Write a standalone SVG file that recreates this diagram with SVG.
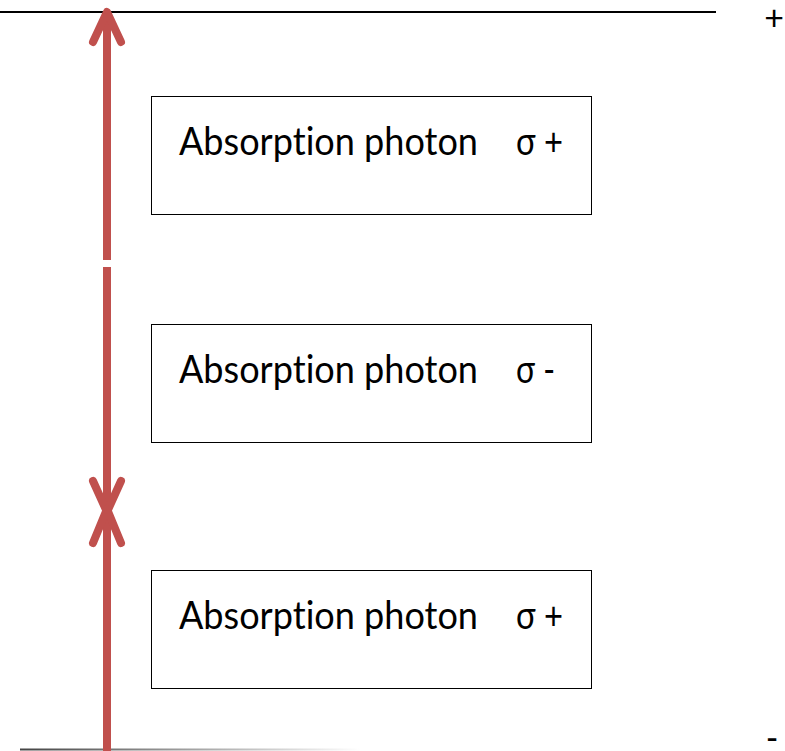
<svg xmlns="http://www.w3.org/2000/svg" width="785" height="751" viewBox="0 0 785 751">
  <style>
    .level { stroke: #000; stroke-width: 2; }
    .box rect { fill: #fff; stroke: #000; stroke-width: 1; }
    .box text, .sign { font-family: Lato, "Liberation Sans", sans-serif; fill: #000; font-variant-ligatures: none; }
    .box text { font-size: 39px; }
    .sign { font-size: 34px; }
    .beam { stroke: #C0504D; stroke-width: 8; fill: none; }
    .head { stroke: #C0504D; stroke-width: 8; fill: none; stroke-linecap: round; stroke-linejoin: round; }
  </style>
  <defs>
    <linearGradient id="fade" x1="0" y1="0" x2="1" y2="0">
      <stop offset="0" stop-color="#444"/>
      <stop offset="1" stop-color="#fff"/>
    </linearGradient>
  </defs>

  <!-- energy levels -->
  <line class="level" x1="0" y1="12" x2="716" y2="12"/>
  <rect x="20" y="748.5" width="340" height="2" fill="url(#fade)"/>
  <text class="sign" x="774" y="30" text-anchor="middle">+</text>
  <text class="sign" x="772" y="750" text-anchor="middle">-</text>

  <!-- transitions -->
  <g id="connectors">
    <line class="beam" x1="107" y1="260" x2="107" y2="14"/>
    <polyline class="head" points="93,42 107,12 121,42"/>
    <line class="beam" x1="107" y1="267" x2="107" y2="510"/>
    <polyline class="head" points="93,481 107,512 121,481"/>
    <line class="beam" x1="107" y1="751" x2="107" y2="510"/>
    <polyline class="head" points="93,543 107,509 121,543"/>
  </g>

  <g id="box-top" class="box">
    <rect x="151.5" y="96.5" width="440" height="118"/>
    <text x="179" y="155" textLength="299" lengthAdjust="spacingAndGlyphs">Absorption photon</text>
    <text x="516" y="155" textLength="47" lengthAdjust="spacingAndGlyphs">σ +</text>
  </g>
  <g id="box-middle" class="box">
    <rect x="151.5" y="324.5" width="440" height="118"/>
    <text x="179" y="383" textLength="299" lengthAdjust="spacingAndGlyphs">Absorption photon</text>
    <text x="516" y="383" textLength="39" lengthAdjust="spacingAndGlyphs">σ -</text>
  </g>
  <g id="box-bottom" class="box">
    <rect x="151.5" y="570.5" width="440" height="118"/>
    <text x="179" y="629" textLength="299" lengthAdjust="spacingAndGlyphs">Absorption photon</text>
    <text x="516" y="629" textLength="47" lengthAdjust="spacingAndGlyphs">σ +</text>
  </g>
</svg>
